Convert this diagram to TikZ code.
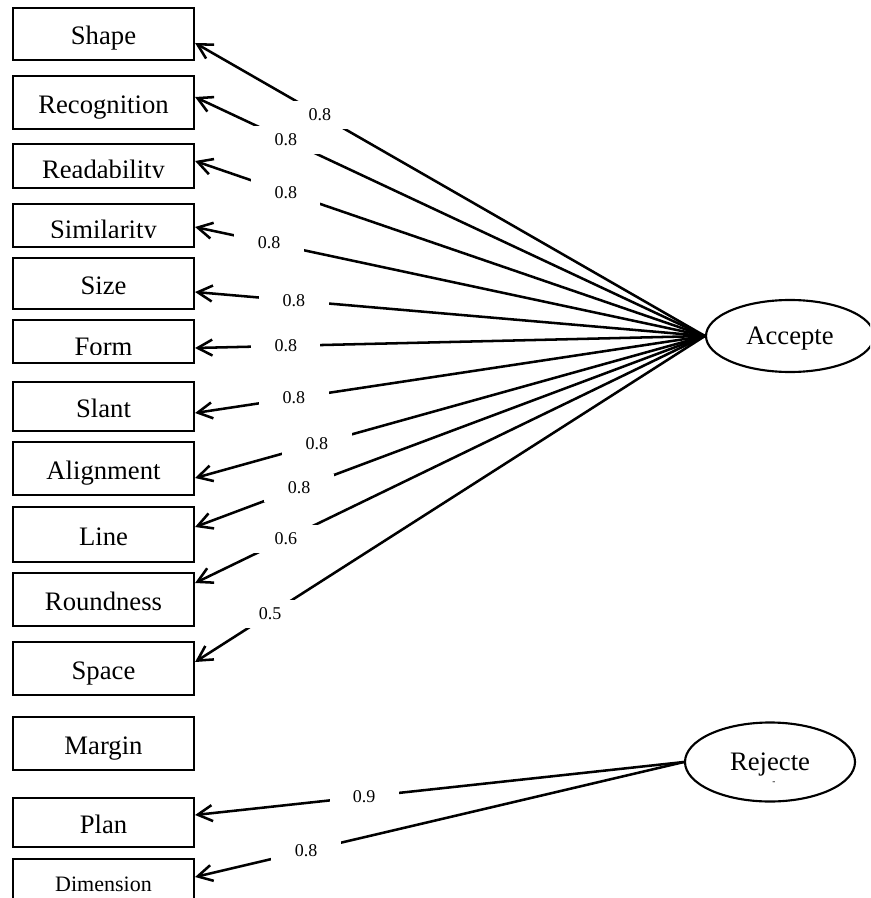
\documentclass[tikz,border=0pt]{standalone}
\usepackage{fontspec}
\setmainfont{Liberation Serif}
\usetikzlibrary{positioning,arrows.meta,shapes.geometric,calc}

\tikzset{
  factor/.style={draw, line width=1.6pt, minimum width=135.75pt, inner sep=0pt,
    text height=16.5pt, text depth=0pt, font=\fontsize{20}{24}\selectfont},
  cuttext/.style={anchor=base, inner sep=0pt, font=\fontsize{20}{24}\selectfont},
  latent/.style={draw, ellipse, line width=1.6pt, inner sep=0pt,
    text height=12pt, text depth=0pt, font=\fontsize{20}{24}\selectfont},
  load/.style={fill=white, minimum width=52pt, minimum height=21pt, inner sep=0pt,
    font=\fontsize{13.5}{16}\selectfont},
  loadarrow/.style={line width=1.9pt,
    -{Straight Barb[length=11pt,width=12pt,line width=1.9pt]}},
}

\begin{document}
\begin{tikzpicture}[x=0.75pt,y=-0.75pt]
\clip (0,0) rectangle (870,898);

% indicators
\node (shape) [factor, minimum height=39pt] at (103.5,34) {Shape};
\node (recog) [factor, minimum height=39.75pt] at (103.5,102.5) {Recognition};
\node (read) [factor, minimum height=33pt] at (103.5,166) {};
\node (simil) [factor, minimum height=32.25pt] at (103.5,225.5) {};
\node (size) [factor, minimum height=38.25pt] at (103.5,283.5) {Size};
\node (form) [factor, minimum height=32.25pt] at (103.5,341.5) {};
\node (slant) [factor, minimum height=36.75pt] at (103.5,406.5) {Slant};
\node (align) [factor, minimum height=39.75pt] at (103.5,468.5) {Alignment};
\node (line) [factor, minimum height=41.25pt] at (103.5,534.5) {Line};
\node (round) [factor, minimum height=39.75pt] at (103.5,599.5) {Roundness};
\node (space) [factor, minimum height=39.75pt] at (103.5,668.5) {Space};
\node (margin) [factor, minimum height=39.75pt] at (103.5,743.5) {Margin};
\node (plan) [factor, minimum height=36.75pt] at (103.5,822.5) {Plan};
\node (dim) [factor, minimum height=39pt, text height=9pt,
  font=\fontsize{16.5}{20}\selectfont] at (103.5,885) {Dimension};

% texts cut off by their boxes
\begin{scope}
\clip (13,144) rectangle (194,178);
\node (read-t) [cuttext] at (103.5,179) {Readability};
\end{scope}
\begin{scope}
\clip (13,204) rectangle (194,238);
\node (simil-t) [cuttext] at (103.5,239) {Similarity};
\end{scope}
\begin{scope}
\clip (13,320) rectangle (194,354);
\node (form-t) [cuttext] at (103.5,355) {Form};
\end{scope}

% factors
\node (acc) [latent, minimum width=126pt, minimum height=54pt] at (790,336) {Accepte};
\node (rej) [latent, minimum width=127.5pt, minimum height=59.25pt] at (770,762) {Rejecte};
\node (rej-d) [inner sep=0pt, font=\fontsize{7}{7}\selectfont] at ($(rej.base)+(4,13)$) {-};

% loadings
\draw[loadarrow] (acc.west) -- node[load, pos=0.755] {0.8} ($(shape.east)+(0,9)$);
\draw[loadarrow] (acc.west) -- node[load, pos=0.822] {0.8} ($(recog.east)+(0,-5.5)$);
\draw[loadarrow] (acc.west) -- node[load, pos=0.822] {0.8} ($(read.east)+(0,-5)$);
\draw[loadarrow] (acc.west) -- node[load, pos=0.855] {0.8} ($(simil.east)+(0,1.5)$);
\draw[loadarrow] (acc.west) -- node[load, pos=0.806] {0.8} ($(size.east)+(0,8.5)$);
\draw[loadarrow] (acc.west) -- node[load, pos=0.822] {0.8} ($(form.east)+(0,6.5)$);
\draw[loadarrow] (acc.west) -- node[load, pos=0.806] {0.8} ($(slant.east)+(0,6.5)$);
\draw[loadarrow] (acc.west) -- node[load, pos=0.761] {0.8} ($(align.east)+(0,9.5)$);
\draw[loadarrow] (acc.west) -- node[load, pos=0.796] {0.8} ($(line.east)+(0,-7.5)$);
\draw[loadarrow] (acc.west) -- node[load, pos=0.822] {0.6} ($(round.east)+(0,-16.5)$);
\draw[loadarrow] (acc.west) -- node[load, pos=0.853] {0.5} ($(space.east)+(0,-6.5)$);
\draw[loadarrow] (rej.west) -- node[load, pos=0.654] {0.9} ($(plan.east)+(0,-7.5)$);
\draw[loadarrow] (rej.west) -- node[load, pos=0.773] {0.8} ($(dim.east)+(0,-8)$);
\end{tikzpicture}
\end{document}
